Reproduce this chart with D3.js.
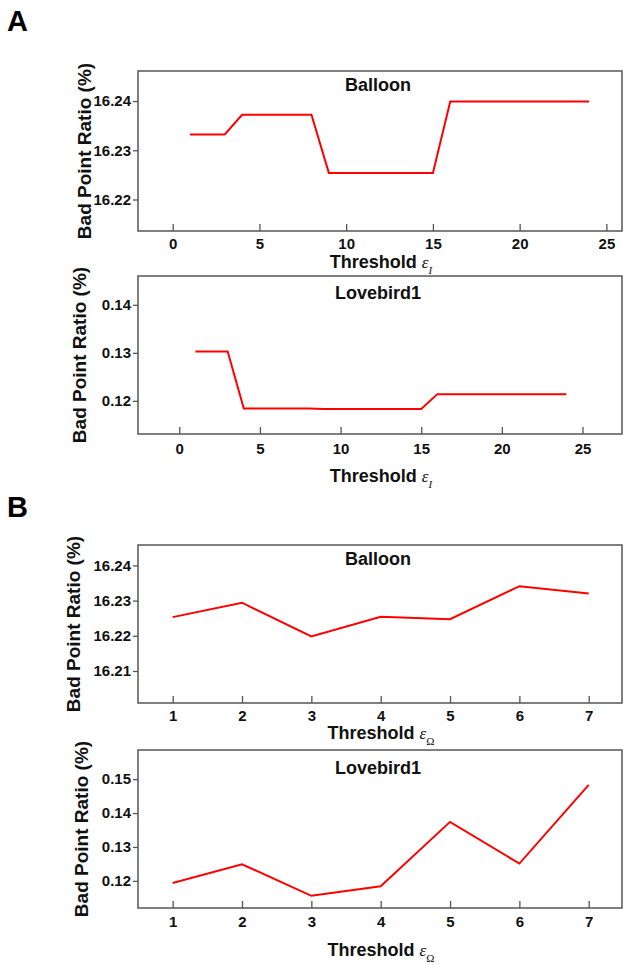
<!DOCTYPE html>
<html>
<head>
<meta charset="utf-8">
<script src="https://cdn.jsdelivr.net/npm/d3@7"></script>
<style>
  body { margin: 0; background: #fff; }
  svg { display: block; }
  .tick text { font-family: "Liberation Sans", Arial, sans-serif; font-weight: bold; font-size: 15px; fill: #111; }
  .tick line { stroke: #555; stroke-width: 1.3; }
</style>
</head>
<body>
<div id="vis"></div>
<script>
// threshold values
var thrI = [1,2,3,4,5,6,7,8,9,10,11,12,13,14,15,16,17,18,19,20,21,22,23,24];
var thrO = [1,2,3,4,5,6,7];

// bad point ratio (%)
var balloonI = [16.2332,16.2332,16.2332,16.2372,16.2372,16.2372,16.2372,16.2372,
                16.2254,16.2254,16.2254,16.2254,16.2254,16.2254,16.2254,
                16.2399,16.2399,16.2399,16.2399,16.2399,16.2399,16.2399,16.2399,16.2399];
var lovebirdI = [0.1303,0.1303,0.1303,0.1184,0.1184,0.1184,0.1184,0.1184,
                 0.1183,0.1183,0.1183,0.1183,0.1183,0.1183,0.1183,
                 0.1214,0.1214,0.1214,0.1214,0.1214,0.1214,0.1214,0.1214,0.1214];
var balloonO = [16.2253,16.2294,16.2198,16.2254,16.2247,16.2341,16.2320];
var lovebirdO = [0.1194,0.1249,0.1156,0.1184,0.1374,0.1251,0.1483];

// tick labels
var xTicksI = [0,5,10,15,20,25];
var xTicksO = [1,2,3,4,5,6,7];
var yTicksBalloonI = [16.22,16.23,16.24];
var yTicksLoveI = [0.12,0.13,0.14];
var yTicksBalloonO = [16.21,16.22,16.23,16.24];
var yTicksLoveO = [0.12,0.13,0.14,0.15];

var W = 623, H = 965;
var svg = d3.select("div#vis").append("svg")
  .attr("width", W).attr("height", H);

var panels = [
  {name: "Balloon", xs: thrI, ys: balloonI, xt: xTicksI, yt: yTicksBalloonI, sub: "I",
   xd: [-2, 25.9], yd: [16.2136, 16.2461], top: 71, bot: 231, titleY: 91, tickY: 18, labY: 268, ylabX: 91},
  {name: "Lovebird1", xs: thrI, ys: lovebirdI, xt: xTicksI, yt: yTicksLoveI, sub: "I",
   xd: [-2.56, 27.45], yd: [0.1131, 0.146], top: 276, bot: 434, titleY: 299, tickY: 20, labY: 482, ylabX: 86},
  {name: "Balloon", xs: thrO, ys: balloonO, xt: xTicksO, yt: yTicksBalloonO, sub: "\u03A9",
   xd: [0.5, 7.48], yd: [16.2009, 16.2458], top: 545, bot: 703, titleY: 565, tickY: 18, labY: 739, ylabX: 80},
  {name: "Lovebird1", xs: thrO, ys: lovebirdO, xt: xTicksO, yt: yTicksLoveO, sub: "\u03A9",
   xd: [0.5, 7.48], yd: [0.112, 0.1586], top: 750, bot: 908, titleY: 774, tickY: 19, labY: 956, ylabX: 88}
];

var left = 138, right = 622;

panels.forEach(function(p) {
  var x = d3.scaleLinear().domain(p.xd).range([left, right]);
  var y = d3.scaleLinear().domain(p.yd).range([p.bot, p.top]);
  var g = svg.append("g");

  // x axis, ticks pointing inward
  g.append("g")
    .attr("transform", "translate(0," + p.bot + ")")
    .call(d3.axisBottom(x).tickValues(p.xt).tickSize(-7).tickPadding(p.tickY - 11).tickFormat(d3.format("d")))
    .call(function(a) { a.select(".domain").remove(); });

  // y axis, ticks pointing outward
  g.append("g")
    .attr("transform", "translate(" + left + ",0)")
    .call(d3.axisLeft(y).tickValues(p.yt).tickSize(5).tickPadding(2).tickFormat(function(d) { return d.toFixed(2); }))
    .call(function(a) { a.select(".domain").remove(); });

  // frame
  g.append("rect")
    .attr("x", left).attr("y", p.top)
    .attr("width", right - left).attr("height", p.bot - p.top)
    .attr("fill", "none")
    .attr("stroke", "#555")
    .attr("stroke-width", 1.5);

  // data line
  var line = d3.line()
    .x(function(d, i) { return x(p.xs[i]); })
    .y(function(d) { return y(d); });
  g.append("path")
    .datum(p.ys)
    .attr("d", line)
    .attr("fill", "none")
    .attr("stroke", "#ff0000")
    .attr("stroke-width", 2);

  // panel title
  g.append("text")
    .attr("x", 378).attr("y", p.titleY)
    .attr("text-anchor", "middle")
    .attr("font-family", "Liberation Sans, Arial, sans-serif")
    .attr("font-weight", "bold")
    .attr("font-size", 18)
    .attr("fill", "#111")
    .text(p.name);

  // y label
  g.append("text")
    .attr("transform", "translate(" + p.ylabX + "," + ((p.top + p.bot) / 2) + ") rotate(-90)")
    .attr("text-anchor", "middle")
    .attr("font-family", "Liberation Sans, Arial, sans-serif")
    .attr("font-weight", "bold")
    .attr("font-size", 19)
    .attr("fill", "#111")
    .text("Bad Point Ratio (%)");

  // x label with epsilon subscript
  var xl = g.append("text")
    .attr("x", 381).attr("y", p.labY)
    .attr("text-anchor", "middle")
    .attr("font-family", "Liberation Sans, Arial, sans-serif")
    .attr("font-weight", "bold")
    .attr("font-size", 18)
    .attr("fill", "#111");
  xl.append("tspan").text("Threshold ");
  xl.append("tspan")
    .attr("font-family", "Liberation Serif, Times New Roman, serif")
    .attr("font-style", "italic")
    .attr("font-weight", "normal")
    .attr("font-size", 17)
    .text("\u03B5");
  xl.append("tspan")
    .attr("font-family", "Liberation Serif, Times New Roman, serif")
    .attr("font-style", p.sub === "I" ? "italic" : "normal")
    .attr("font-weight", "normal")
    .attr("font-size", 11)
    .attr("dy", 6)
    .text(p.sub);
});

// panel letters
svg.selectAll(".letter")
  .data([{t: "A", y: 31}, {t: "B", y: 517}])
  .enter().append("text")
  .attr("class", "letter")
  .attr("x", 7).attr("y", function(d) { return d.y; })
  .attr("font-family", "Liberation Sans Narrow, Liberation Sans, Arial, sans-serif")
  .attr("font-weight", "bold")
  .attr("font-size", 29)
  .attr("fill", "#000")
  .text(function(d) { return d.t; });
</script>
</body>
</html>
